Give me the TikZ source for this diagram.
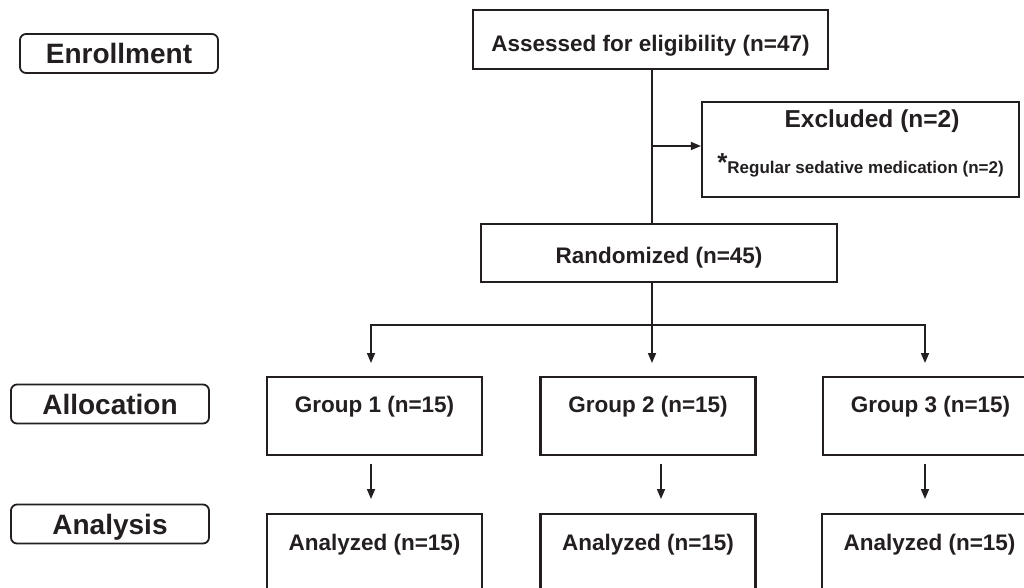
\documentclass[tikz,border=0pt]{standalone}
\usepackage{fontspec}
\setmainfont{Liberation Sans}
\usetikzlibrary{arrows.meta,calc}
\definecolor{ink}{HTML}{231F20}
\begin{document}
\begin{tikzpicture}[x=1pt,y=-1pt,
  box/.style={draw=ink, line width=2.2pt, rectangle, inner sep=0pt, text=ink,
    font=\fontsize{22.5}{27}\selectfont\bfseries},
  phase/.style={draw=ink, line width=1.8pt, rounded corners=6pt, inner sep=0pt,
    minimum width=198pt, minimum height=39pt, text=ink,
    font=\fontsize{28}{32}\selectfont\bfseries, text height=20pt, text depth=0pt},
  grp/.style={box, minimum width=215pt, minimum height=78pt, anchor=north,
    text height=35pt, text depth=43pt},
  ana/.style={box, minimum width=215pt, minimum height=96pt, anchor=north,
    text height=36pt, text depth=60pt},
  plain/.style={text=ink, inner sep=0pt, anchor=base},
  conn/.style={draw=ink, line width=1.7pt},
  arr/.style={conn, -{Triangle[length=10pt,width=8pt]}}
]
\useasboundingbox (0,0) rectangle (1024,587);
\clip (0,0) rectangle (1024,587);

% phase labels
\node[phase] (enr) at (119,53.5) {Enrollment};
\node[phase] (alo) at (110,404) {Allocation};
\node[phase] (anl) at (110,524) {Analysis};

% main boxes
\node[box, minimum width=355pt, minimum height=59pt, anchor=north,
      text height=41pt, text depth=18pt] (assess) at (650.5,9) {Assessed for eligibility (n=47)};
\node[box, minimum width=317pt, minimum height=95pt, anchor=north] (exc) at (860.5,101) {};
\node[plain, font=\fontsize{24.5}{28}\selectfont\bfseries] (exct) at (872,127) {Excluded (n=2)};
\node[plain, font=\fontsize{17}{20}\selectfont\bfseries] (excm) at (860.5,173)
  {\raisebox{2pt}{\fontsize{26}{26}\selectfont *}Regular sedative medication (n=2)};
\node[box, minimum width=356pt, minimum height=58pt, anchor=north,
      text height=39pt, text depth=19pt] (rand) at (659,223) {Randomized (n=45)};

\node[grp] (g1) at (374.5,376) {Group 1 (n=15)};
\node[grp] (g2) at (648,376) {Group 2 (n=15)};
\node[grp] (g3) at (930.5,376) {Group 3 (n=15)};

\node[ana] (a1) at (374.5,513) {Analyzed (n=15)};
\node[ana] (a2) at (648,513) {Analyzed (n=15)};
\node[ana] (a3) at (929.5,513) {Analyzed (n=15)};

% connectors
\coordinate (exj) at (652,146);
\coordinate (split) at (652,325);
\draw[conn] (exj |- assess.south) -- (exj |- rand.north);
\draw[arr] (exj) -- (exj -| exc.west);
\draw[conn] (split |- rand.south) -- (split);
\draw[arr, shorten >=13pt] (split) -| ([xshift=-3.5pt]g1.north);
\draw[arr, shorten >=13pt] (split) -- (split |- g2.north);
\draw[arr, shorten >=13pt] (split) -| ([xshift=-5.5pt]g3.north);

\draw[arr, shorten <=8pt, shorten >=14pt] ([xshift=-3.5pt]g1.south) -- ([xshift=-3.5pt]a1.north);
\draw[arr, shorten <=8pt, shorten >=14pt] ([xshift=13pt]g2.south) -- ([xshift=13pt]a2.north);
\draw[arr, shorten <=8pt, shorten >=14pt] ([xshift=-5.5pt]g3.south) -- ([xshift=-4.5pt]a3.north);
\end{tikzpicture}
\end{document}
